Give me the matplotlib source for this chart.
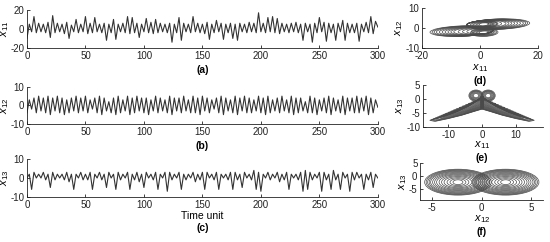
import numpy as np
import matplotlib.pyplot as plt
from matplotlib.patches import Ellipse, Polygon

plt.rcParams['font.family'] = ['Liberation Sans', 'DejaVu Sans']
plt.rcParams['axes.unicode_minus'] = False
plt.rcParams['mathtext.fontset'] = 'custom'
plt.rcParams['mathtext.rm'] = 'Liberation Sans'
plt.rcParams['mathtext.it'] = 'Liberation Sans:italic'

# time series, one value every 2 time units (peaks / troughs)
x11 = [-10, 5, -3, 13, -4, 6, -3, 5, -4, 7,
       -9, 14, -4, 6, -3, 5, -5, 7, -10, 4,
       -3, 10, -4, 5, -3, 13, -5, 6, -4, 12,
       -3, 5, -4, 6, -12, 5, -4, 10, -11, 5,
       -3, 6, -4, 13, -5, 12, -4, 6, -9, 5,
       -3, 11, -4, 7, -5, 10, -4, 6, -3, 5,
       -4, 6, -14, 5, -4, 12, -12, 6, -3, 5,
       -4, 13, -3, 6, -4, 5, -5, 7, -11, 5,
       -4, 9, -3, 6, -11, 5, -4, 6, -10, 5,
       -12, 6, -3, 5, -4, 7, -3, 6, -4, 17,
       -3, 6, -4, 12, -3, 13, -4, 11, -5, 6,
       -3, 5, -4, 6, -3, 7, -4, 5, -12, 6,
       -3, 5, -14, 6, -4, 12, -3, 7, -13, 6,
       -4, 5, -12, 6, -3, 9, -12, 6, -4, 5,
       -4, 6, -13, 5, -3, 7, -4, 13, -5, 8,
       2]
x12 = [-4, 3, -2, 4, -4, 5, -3, 4, -4, 5,
       -5, 4, -3, 5, -4, 4, -5, 3, -4, 4,
       -3, 5, -4, 4, -3, 5, -4, 3, -2, 4,
       -4, 5, -5, 4, -3, 2, -4, 4, -5, 5,
       -4, 3, -3, 5, -5, 4, -4, 5, -3, 4,
       -4, 4, -5, 3, -3, 5, -4, 4, -3, 3,
       -4, 5, -5, 4, -3, 4, -4, 5, -3, 3,
       -4, 5, -4, 4, -5, 5, -3, 4, -4, 3,
       -2, 4, -4, 5, -5, 4, -3, 3, -4, 5,
       -5, 4, -3, 5, -4, 4, -4, 3, -3, 5,
       -4, 4, -5, 5, -4, 3, -3, 4, -4, 5,
       -3, 3, -4, 5, -5, 4, -4, 4, -3, 2,
       -4, 5, -4, 4, -5, 3, -3, 4, -4, 5,
       -5, 4, -3, 3, -4, 5, -5, 4, -3, 4,
       -4, 5, -4, 4, -3, 5, -5, 4, -4, 3,
       -1]
x13 = [0, 2, -6, 3, 0, 2, 0, 3, -1, 2,
       -5, 3, -1, 2, 0, 2, -1, 3, -2, 2,
       -6, 2, 0, 3, -1, 2, -1, 3, -6, 2,
       0, 3, -1, 2, -5, 3, 0, 2, -6, 3,
       -1, 2, 0, 3, -6, 2, -1, 3, -2, 2,
       -5, 3, 0, 2, -1, 3, -6, 2, 0, 3,
       -7, 3, -1, 2, 0, 3, -6, 2, -1, 2,
       0, 3, -2, 2, -1, 3, -6, 3, 0, 2,
       -1, 3, -6, 2, 0, 2, -1, 3, -6, 3,
       -1, 2, -5, 3, 0, 2, -1, 4, -6, 3,
       -7, 2, 0, 3, -1, 2, 0, 3, -2, 2,
       -1, 3, -6, 2, 0, 2, -1, 3, -7, 4,
       -6, 3, -1, 2, 0, 3, -7, 3, -1, 2,
       -6, 4, -1, 2, -6, 3, 0, 2, -7, 3,
       -1, 3, 0, 2, -6, 2, -1, 3, -5, 2,
       0]
t = np.linspace(0, 300, len(x11))

# (d) x11-x12: left loops all return near x11=4.5, right loops near x11=-4.5
d_left_reach = [-3, -4.5, -6, -7.5, -9, -10, -11, -12, -13, -14, -15, -15.8, -16.5, -17.2]
d_right_reach = [3, 4.5, 6, 7.5, 9, 10, 11, 12, 13, 14, 15, 15.8, 16.5, 17.2]
d_loop_h = [2.4, 2.7, 3.0, 3.3, 3.6, 3.8, 4.0, 4.2, 4.4, 4.6, 4.8, 5.0, 5.1, 5.2]
d_anchor = [4.5, -4.5]
d_cy = [-1.6, 1.9]
d_hole_w = [3.5, 4.5, 5.5, 6.5, 7.5, 8.5, 9.5]
d_hole_h = [1.5, 1.9, 2.3, 2.7, 3.1, 3.5, 3.9]
d_hole_c = [(1.5, 1.8), (1.5, -2.3)]

# (e) x11-x13 wing outline (left wing) and nested scales, plus top lobes
e_wing_x = [0.3, -1.5, -4, -8, -12, -15.5, -14, -10, -6, -2.5, 0.3]
e_wing_y = [1.0, -0.5, -2.5, -4.8, -6.5, -7.6, -8.0, -7.0, -5.8, -4.5, -3.5]
e_scales = [0.2, 0.26, 0.32, 0.38, 0.44, 0.5, 0.55, 0.6, 0.65, 0.7,
            0.74, 0.78, 0.82, 0.86, 0.9, 0.93, 0.96, 0.98, 1.0]
e_lobe_c = [(-1.8, 1.2), (1.8, 1.2)]
e_lobe_w = [1.5, 2.0, 2.5, 3.0, 3.4, 3.8, 4.2]
e_lobe_h = [1.5, 2.0, 2.5, 3.0, 3.3, 3.6, 4.0]

# (f) x12-x13 two lobes of rings
f_ring_c = [(-2.4, -2.3), (2.4, -2.3)]
f_ring_w = [1.0, 1.6, 2.2, 2.8, 3.3, 3.8, 4.3, 4.7, 5.1, 5.5, 5.8, 6.1, 6.4, 6.7]
f_ring_h = [1.8, 2.6, 3.4, 4.2, 4.9, 5.6, 6.2, 6.8, 7.4, 8.0, 8.5, 9.0, 9.4, 9.8]

LC = '#333333'
PC = '#4a4a4a'
PW = 0.5

fig = plt.figure(figsize=(5.5, 2.42), dpi=100)


def style(ax):
    ax.spines['top'].set_visible(False)
    ax.spines['right'].set_visible(False)
    for s in ['left', 'bottom']:
        ax.spines[s].set_linewidth(0.6)
        ax.spines[s].set_color('#222222')
    ax.tick_params(direction='in', length=2, width=0.6, labelsize=7, pad=2, colors='#222222')


def px(y):
    return 1 - y / 242.0


ts = [(x11, r'$x_{11}$', 20, [-20, 0, 20], (0.049, 0.802, 0.638, 0.157), 70),
      (x12, r'$x_{12}$', 10, [-10, 0, 10], (0.049, 0.488, 0.638, 0.153), 146),
      (x13, r'$x_{13}$', 10, [-10, 0, 10], (0.049, 0.186, 0.638, 0.157), 228)]
for k, (y, lab, lim, yt, pos, ly) in enumerate(ts):
    ax = fig.add_axes(pos)
    ax.plot(t, y, color=LC, lw=0.8)
    ax.set_xlim(0, 300)
    ax.set_ylim(-lim, lim)
    ax.set_xticks(range(0, 301, 50))
    ax.set_yticks(yt)
    ax.set_ylabel(lab, fontsize=8)
    ax.yaxis.set_label_coords(-0.046, 0.5)
    style(ax)
    fig.text(0.049 + 0.638 / 2, px(ly), '(' + 'abc'[k] + ')', ha='center', va='center',
             fontsize=7.5, fontweight='bold')
fig.text(0.049 + 0.638 / 2, px(216), 'Time unit', ha='center', va='center', fontsize=7.5)

# (d)
ax = fig.add_axes((0.767, 0.802, 0.211, 0.165))
for reach, anchor, cy in zip([d_left_reach, d_right_reach], d_anchor, d_cy):
    for r, h in zip(reach, d_loop_h):
        ax.add_patch(Ellipse(((r + anchor) / 2, cy), abs(anchor - r), h, angle=3,
                             fill=False, ec=PC, lw=PW))
for c in d_hole_c:
    for w, h in zip(d_hole_w, d_hole_h):
        ax.add_patch(Ellipse(c, w, h, angle=3, fill=False, ec=PC, lw=PW))
ax.set_xlim(-20, 20)
ax.set_ylim(-10, 10)
ax.set_xticks([-20, 0, 20])
ax.set_yticks([-10, 0, 10])
ax.set_ylabel(r'$x_{12}$', fontsize=8, labelpad=0)
style(ax)
fig.text(0.767 + 0.211 / 2, px(68), r'$x_{11}$', ha='center', va='center', fontsize=8)
fig.text(0.767 + 0.211 / 2, px(81), '(d)', ha='center', va='center', fontsize=7.5, fontweight='bold')

# (e)
ax = fig.add_axes((0.769, 0.475, 0.218, 0.174))
wx = np.array(e_wing_x)
wy = np.array(e_wing_y)
for s in e_scales:
    for sign in (1, -1):
        pts = np.column_stack([sign * wx * s, 0.5 + (wy - 0.5) * s])
        ax.add_patch(Polygon(pts, closed=True, fill=False, ec=PC, lw=PW))
for c in e_lobe_c:
    for w, h in zip(e_lobe_w, e_lobe_h):
        ax.add_patch(Ellipse(c, w, h, fill=False, ec=PC, lw=PW))
ax.set_xlim(-17.5, 18)
ax.set_ylim(-10, 5)
ax.set_xticks([-10, 0, 10])
ax.set_yticks([-10, -5, 0, 5])
ax.set_ylabel(r'$x_{13}$', fontsize=8, labelpad=0)
style(ax)
fig.text(0.769 + 0.218 * 17.5 / 35.5, px(145), r'$x_{11}$', ha='center', va='center', fontsize=8)
fig.text(0.769 + 0.218 * 17.5 / 35.5, px(158), '(e)', ha='center', va='center', fontsize=7.5, fontweight='bold')

# (f)
ax = fig.add_axes((0.764, 0.174, 0.224, 0.153))
for c in f_ring_c:
    for w, h in zip(f_ring_w, f_ring_h):
        ax.add_patch(Ellipse(c, w, h, fill=False, ec=PC, lw=PW))
ax.set_xlim(-6.2, 6.2)
ax.set_ylim(-9, 5)
ax.set_xticks([-5, 0, 5])
ax.set_yticks([-5, 0, 5])
ax.set_ylabel(r'$x_{13}$', fontsize=8, labelpad=0)
style(ax)
fig.text(0.764 + 0.224 / 2, px(219), r'$x_{12}$', ha='center', va='center', fontsize=8)
fig.text(0.764 + 0.224 / 2, px(232), '(f)', ha='center', va='center', fontsize=7.5, fontweight='bold')

fig.savefig('out.png', dpi=100)
